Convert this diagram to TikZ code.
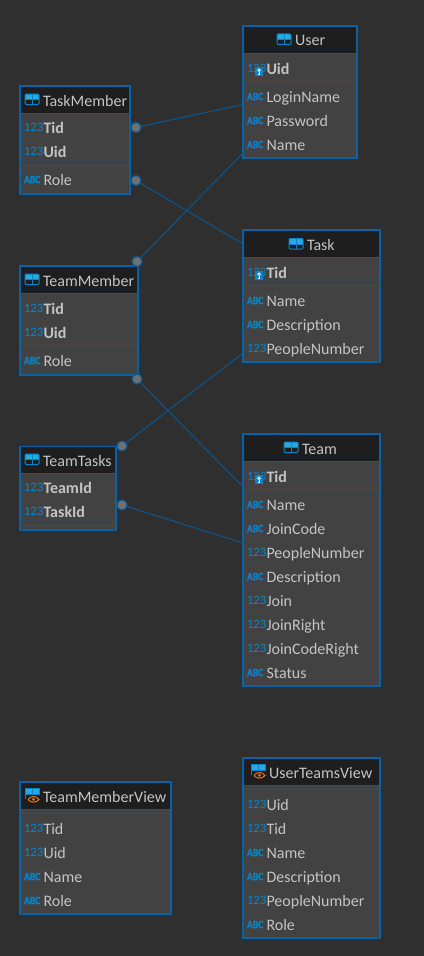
\documentclass[tikz,border=0pt]{standalone}
\usepackage{fontspec}
\setmainfont{Carlito}
\newfontfamily\abcfont[BoldFeatures={FakeBold=1.6}]{Carlito}
\definecolor{bgc}{RGB}{47,47,47}
\definecolor{bodyc}{RGB}{66,66,66}
\definecolor{headc}{RGB}{30,30,30}
\definecolor{edgec}{RGB}{8,98,168}
\definecolor{sepc}{RGB}{16,90,148}
\definecolor{linkc}{RGB}{14,84,140}
\definecolor{txtc}{RGB}{196,196,196}
\definecolor{iconc}{RGB}{8,132,204}
\definecolor{iconl}{RGB}{40,170,225}
\definecolor{dotc}{RGB}{112,112,112}
\definecolor{eyec}{RGB}{222,110,16}
\newcommand{\pxv}{0.75pt}
\tikzset{
  x=0.75pt,y=-0.75pt,
  entitybox/.style={draw=edgec,line width=1.5pt,fill=bodyc,inner sep=0,outer sep=0,rectangle},
  fieldtext/.style={text=txtc,inner sep=0,outer sep=0,anchor=base west,font=\fontsize{12}{12}\selectfont},
  keytext/.style={fieldtext,font=\fontsize{12}{12}\selectfont\bfseries},
  typenum/.style={text=iconc,inner sep=0,outer sep=0,anchor=base west,font=\fontsize{9.6}{10}\selectfont},
  typeabc/.style={text=iconc,inner sep=0,outer sep=0,anchor=base west,font=\abcfont\fontsize{8.4}{10}\selectfont\bfseries},
  linkline/.style={draw=linkc,line width=0.8pt},
  portdot/.style={circle,draw=sepc,fill=dotc,line width=0.9pt,minimum size=7.5pt,inner sep=0,outer sep=0},
  seprule/.style={draw=sepc,line width=0.8pt},
}
% name, left, right, top, bottom, header line y, title icon x, title
\newcommand{\entitybox}[8]{%
  \node[entitybox,minimum width={(#3-#2)*0.75pt},minimum height={(#5-#4)*0.75pt}] (#1) at ({(#2+#3)/2},{(#4+#5)/2}) {};
  \fill[headc] (#2+0.8,#4+0.8) rectangle (#3-0.8,#6);
  \draw[seprule] (#2+1,#6) -- (#3-1,#6);
  \node[fieldtext] (#1-title) at (#7+18,#4+20) {#8};
}
\newcommand{\sepline}[3]{\draw[seprule] (#1+1,#3) -- (#2-1,#3);}
% table icon at x, y-centre
\newcommand{\tableicon}[2]{%
  \fill[iconl] (#1,#2-5.5) rectangle (#1+14,#2-0.5);
  \draw[iconc,line width=0.75pt,rounded corners=0.8pt] (#1,#2-5.5) rectangle (#1+14,#2+5);
  \draw[iconc,line width=0.75pt] (#1,#2) -- (#1+14,#2) (#1+7,#2-5) -- (#1+7,#2+5);
}
\newcommand{\viewicon}[2]{%
  \fill[iconl] (#1,#2-7) rectangle (#1+14,#2-2);
  \draw[iconc,line width=0.75pt] (#1,#2-7.5) rectangle (#1+14,#2-2) (#1+7,#2-7) -- (#1+7,#2-2) (#1,#2-2) -- (#1,#2+3);
  \fill[headc] (#1+2,#2-1) rectangle (#1+15,#2+7);
  \draw[eyec,line width=0.8pt] (#1+3,#2+3.5) .. controls (#1+6,#2-0.5) and (#1+11,#2-0.5) .. (#1+14,#2+3.5) .. controls (#1+11,#2+7) and (#1+6,#2+7) .. (#1+3,#2+3.5);
  \fill[eyec] (#1+8.5,#2+3.3) circle (1.6);
}
% box, left, centre y, text, type (num/abc), style
\newcommand{\fieldrow}[6]{%
  \node[type#5] (#1-#4-type) at (#2+4,#3+3.2) {\csname lab#5\endcsname};
  \node[#6] (#1-#4) at (#2+23.5,#3+5.5) {#4};
}
\newcommand{\labnum}{123}
\newcommand{\lababc}{\scalebox{0.86}[1]{ABC}}
\newcommand{\keymark}[2]{%
  \fill[iconc] (#1+12,#2-1.7) rectangle (#1+20,#2+7);
  \fill[white] (#1+16,#2+1.2) circle (1.8);
  \fill[iconc] (#1+16,#2+1.2) circle (0.6);
  \draw[white,line width=0.6pt] (#1+16.6,#2+2.6) -- (#1+16.6,#2+5.8) -- (#1+14.8,#2+5.8);
}
\begin{document}
\begin{tikzpicture}
\useasboundingbox (0,0) rectangle (424,956);
\fill[bgc] (0,0) rectangle (424,956);

\entitybox{user}{243}{357}{26}{158}{53.3}{277}{User}
\entitybox{taskmember}{20}{130}{86}{193.5}{113.3}{25}{TaskMember}
\entitybox{task}{243}{379.5}{230}{362}{257.3}{289}{Task}
\entitybox{teammember}{20}{138}{266}{374.5}{293.3}{25}{TeamMember}
\entitybox{team}{243}{379.5}{434}{686}{461.3}{284}{Team}
\entitybox{teamtasks}{20}{116}{446.5}{530}{473.3}{25}{TeamTasks}
\entitybox{teammemberview}{20}{171}{782}{914}{809.3}{25}{TeamMemberView}
\entitybox{userteamsview}{243}{379.5}{758}{937.5}{785.3}{251}{UserTeamsView}

\sepline{243}{357}{81.3}
\sepline{20}{130}{165.3}
\sepline{243}{379.5}{285.3}
\sepline{20}{138}{345.3}
\sepline{243}{379.5}{489.3}
\sepline{20}{116}{525.3}
\sepline{20}{171}{813.3}
\sepline{243}{379.5}{789.3}

\tableicon{277}{39.5}
\tableicon{25}{99.5}
\tableicon{289}{244}
\tableicon{25}{279.5}
\tableicon{284}{447.5}
\tableicon{25}{459.5}
\viewicon{25}{796}
\viewicon{251}{772}

\fieldrow{user}{243}{69}{Uid}{num}{keytext}
\fieldrow{user}{243}{97}{LoginName}{abc}{fieldtext}
\fieldrow{user}{243}{121}{Password}{abc}{fieldtext}
\fieldrow{user}{243}{145}{Name}{abc}{fieldtext}
\keymark{243}{69}

\fieldrow{taskmember}{20}{128}{Tid}{num}{keytext}
\fieldrow{taskmember}{20}{152}{Uid}{num}{keytext}
\fieldrow{taskmember}{20}{180}{Role}{abc}{fieldtext}

\fieldrow{task}{243}{273}{Tid}{num}{keytext}
\fieldrow{task}{243}{301}{Name}{abc}{fieldtext}
\fieldrow{task}{243}{325}{Description}{abc}{fieldtext}
\fieldrow{task}{243}{349}{PeopleNumber}{num}{fieldtext}
\keymark{243}{273}

\fieldrow{teammember}{20}{309}{Tid}{num}{keytext}
\fieldrow{teammember}{20}{333}{Uid}{num}{keytext}
\fieldrow{teammember}{20}{361}{Role}{abc}{fieldtext}

\fieldrow{team}{243}{477}{Tid}{num}{keytext}
\fieldrow{team}{243}{505}{Name}{abc}{fieldtext}
\fieldrow{team}{243}{529}{JoinCode}{abc}{fieldtext}
\fieldrow{team}{243}{553}{PeopleNumber}{num}{fieldtext}
\fieldrow{team}{243}{577}{Description}{abc}{fieldtext}
\fieldrow{team}{243}{601}{Join}{num}{fieldtext}
\fieldrow{team}{243}{625}{JoinRight}{num}{fieldtext}
\fieldrow{team}{243}{649}{JoinCodeRight}{num}{fieldtext}
\fieldrow{team}{243}{673}{Status}{abc}{fieldtext}
\keymark{243}{477}

\fieldrow{teamtasks}{20}{488}{TeamId}{num}{keytext}
\fieldrow{teamtasks}{20}{512}{TaskId}{num}{keytext}

\fieldrow{teammemberview}{20}{829}{Tid}{num}{fieldtext}
\fieldrow{teammemberview}{20}{853}{Uid}{num}{fieldtext}
\fieldrow{teammemberview}{20}{877}{Name}{abc}{fieldtext}
\fieldrow{teammemberview}{20}{901}{Role}{abc}{fieldtext}

\fieldrow{userteamsview}{243}{805}{Uid}{num}{fieldtext}
\fieldrow{userteamsview}{243}{829}{Tid}{num}{fieldtext}
\fieldrow{userteamsview}{243}{853}{Name}{abc}{fieldtext}
\fieldrow{userteamsview}{243}{877}{Description}{abc}{fieldtext}
\fieldrow{userteamsview}{243}{901}{PeopleNumber}{num}{fieldtext}
\fieldrow{userteamsview}{243}{925}{Role}{abc}{fieldtext}

\node[portdot] (p1) at (136,127.5) {};
\node[portdot] (p2) at (136,180.5) {};
\node[portdot] (p3) at (137,261.5) {};
\node[portdot] (p4) at (137,379) {};
\node[portdot] (p5) at (122,446) {};
\node[portdot] (p6) at (122,505) {};

\draw[linkline] (p1) -- ([yshift=-12.5*\pxv]user.west);
\draw[linkline] (p2) -- ([yshift=52*\pxv]task.west);
\draw[linkline] (p3) -- ([yshift=-61*\pxv]user.west);
\draw[linkline] (p4) -- ([yshift=73*\pxv]team.west);
\draw[linkline] (p5) -- ([yshift=-57*\pxv]task.west);
\draw[linkline] (p6) -- ([yshift=17*\pxv]team.west);
\end{tikzpicture}
\end{document}
